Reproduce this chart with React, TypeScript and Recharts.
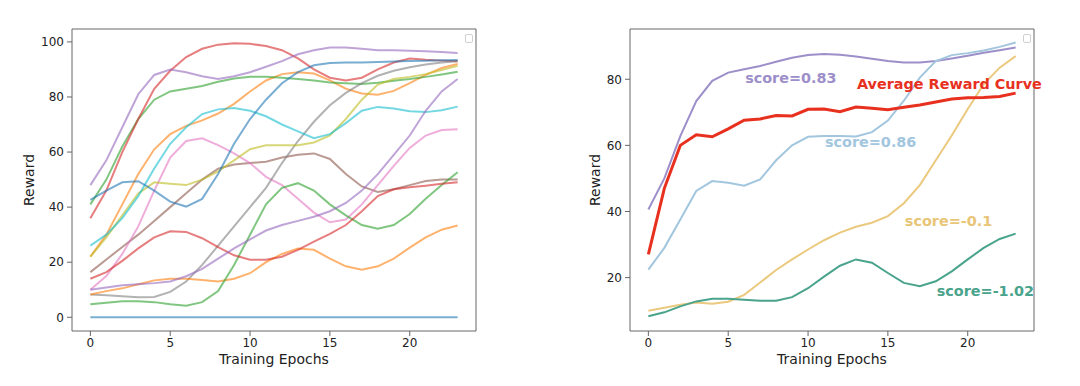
import React from 'react';
import { LineChart, Line, XAxis, YAxis, ReferenceArea, ReferenceDot } from 'recharts';

const epochs = [0, 1, 2, 3, 4, 5, 6, 7, 8, 9, 10, 11, 12, 13, 14, 15, 16, 17, 18, 19, 20, 21, 22, 23];
const xTicks = [0, 5, 10, 15, 20];
const leftYTicks = [0, 20, 40, 60, 80, 100];
const rightYTicks = [20, 40, 60, 80];

// Left panel: individual reward curves
const runBlueFlat = [0, 0, 0, 0, 0, 0, 0, 0, 0, 0, 0, 0, 0, 0, 0, 0, 0, 0, 0, 0, 0, 0, 0, 0];
const runOrangeHigh = [22, 30, 41, 52, 61, 66.5, 69.5, 71.5, 74, 77.5, 82, 86, 88.3, 89, 88.5, 86, 83, 81.3, 80.8, 82.2, 85, 88, 90.5, 92];
const runGreenHigh = [41, 50, 62, 72, 79, 82, 83, 84, 85.5, 86.7, 87.3, 87.3, 87, 86.5, 86, 85.3, 85, 84.7, 85.2, 85.9, 86.5, 87.3, 88.2, 89.2];
const runRedHigh = [36, 46, 60, 72, 83, 89.5, 94.5, 97.5, 99, 99.5, 99.3, 98.5, 97, 94, 90, 87, 86, 87, 90, 92.5, 94, 93.5, 93.2, 93];
const runPurpleHigh = [48, 57, 69, 81, 88, 90, 89, 87.5, 86.5, 87.5, 89, 91, 93, 95.5, 97, 98, 98, 97.5, 97, 97, 96.8, 96.6, 96.3, 96];
const runBrown = [16.4, 21, 25.5, 30, 35, 40, 45, 50, 54, 55.5, 56, 56.5, 58, 59, 59.5, 57.5, 52, 47.5, 45.5, 46.5, 48, 49.5, 50, 50];
const runPink = [10, 15, 23, 33, 46, 58, 64, 65, 62.5, 59.5, 56, 51, 48, 43, 38, 34.5, 35.5, 41, 48, 55, 61.5, 66, 68, 68.3];
const runGray = [8.3, 8, 7.6, 7.3, 7.4, 9.2, 13, 19, 26, 33, 40, 47, 56, 64, 71, 77, 81.5, 85, 87.7, 89.5, 90.8, 91.8, 92.5, 93];
const runOlive = [22, 29, 37, 45, 49, 48.5, 48, 50, 53, 57, 61, 62.5, 62.5, 62.5, 63.5, 66, 72, 79, 84.5, 86.5, 87.3, 88.3, 89.8, 91.3];
const runCyan = [26, 30, 36, 44, 54, 63, 69, 73.8, 75.5, 76, 75, 73, 70, 67.5, 65, 66.5, 70.5, 75, 76.4, 75.8, 74.8, 74.5, 75.2, 76.5];
const runBlueHigh = [42.6, 46, 49, 49.4, 46, 42, 40.2, 43, 52, 63, 72, 79, 85, 89, 91.5, 92.3, 92.5, 92.5, 92.7, 92.9, 93.1, 93.2, 93.3, 93.4];
const runOrangeLow = [8.3, 9.5, 10.5, 12, 13.4, 14, 14, 13.5, 13, 14, 16, 20, 23, 25, 24.5, 21.3, 18.5, 17.3, 18.5, 21.3, 25.3, 29, 31.8, 33.3];
const runGreenLow = [4.7, 5.3, 5.8, 5.8, 5.5, 4.7, 4.2, 5.5, 9.5, 19, 30, 41, 47, 48.7, 46, 41, 37, 33.5, 32.2, 33.5, 37.5, 43, 48, 52.7];
const runRedLow = [14, 16.4, 20.5, 25, 29, 31.2, 31, 28.7, 25.5, 22.5, 20.9, 20.9, 22, 24.5, 27.5, 30.3, 33.5, 38.5, 44, 46.5, 47.2, 47.8, 48.5, 49];
const runPurpleLow = [10, 10.8, 11.6, 12, 12.4, 13, 14.9, 17.6, 21.3, 25, 28.3, 31.5, 33.5, 35, 36.5, 38.5, 41.5, 46, 52, 59, 66, 75, 82, 86.5];

// Right panel: selected curves + average
const avgReward = [27, 47, 60, 63.2, 62.6, 65, 67.6, 68, 69, 68.9, 70.9, 71, 70.2, 71.6, 71.2, 70.8, 71.5, 72.2, 73.1, 74, 74.4, 74.5, 74.8, 75.8];
const curveScore083 = [40.6, 50, 62.8, 73.4, 79.5, 82, 83, 84, 85.3, 86.5, 87.3, 87.6, 87.4, 86.9, 86.2, 85.5, 85.1, 85.1, 85.5, 86.3, 87.1, 88, 88.8, 89.6];
const curveScore086 = [22.4, 29, 37.6, 46.2, 49.2, 48.7, 47.8, 49.7, 55.5, 60, 62.6, 62.8, 62.8, 62.7, 64, 67.5, 73.5, 80.5, 85.5, 87.3, 87.9, 88.7, 89.8, 91.1];
const curveScoreNeg01 = [10, 10.9, 11.8, 12.5, 12.1, 12.7, 14.8, 18.5, 22.3, 25.5, 28.5, 31.3, 33.6, 35.4, 36.6, 38.6, 42.5, 48, 55.5, 63, 71, 78.5, 83.5, 87];
const curveScoreNeg102 = [8.3, 9.5, 11.3, 12.8, 13.6, 13.6, 13.3, 13, 13, 14.1, 16.8, 20.3, 23.6, 25.5, 24.5, 21.4, 18.4, 17.4, 18.9, 21.9, 25.5, 29, 31.7, 33.3];

// annotation labels (data-space anchor: epoch, reward)
const annotations = [
  { text: 'score=0.83', x: 6.06, y: 80.3, color: '#9d8fc9' },
  { text: 'Average Reward Curve', x: 13.06, y: 78.5, color: '#e8301f' },
  { text: 'score=0.86', x: 11.06, y: 60.9, color: '#a3c6df' },
  { text: 'score=-0.1', x: 16.06, y: 37, color: '#e8c577' },
  { text: 'score=-1.02', x: 18.06, y: 15.8, color: '#4aa38c' },
];

const leftSeries = [
  { key: 'b1', color: '#1f77b4', values: runBlueFlat },
  { key: 'o1', color: '#ff7f0e', values: runOrangeHigh },
  { key: 'g1', color: '#2ca02c', values: runGreenHigh },
  { key: 'r1', color: '#d62728', values: runRedHigh },
  { key: 'p1', color: '#9467bd', values: runPurpleHigh },
  { key: 'br', color: '#8c564b', values: runBrown },
  { key: 'pk', color: '#e377c2', values: runPink },
  { key: 'gy', color: '#7f7f7f', values: runGray },
  { key: 'ol', color: '#bcbd22', values: runOlive },
  { key: 'cy', color: '#17becf', values: runCyan },
  { key: 'b2', color: '#1f77b4', values: runBlueHigh },
  { key: 'o2', color: '#ff7f0e', values: runOrangeLow },
  { key: 'g2', color: '#2ca02c', values: runGreenLow },
  { key: 'r2', color: '#d62728', values: runRedLow },
  { key: 'p2', color: '#9467bd', values: runPurpleLow },
];

const rightSeries = [
  { key: 'c083', color: '#9d8fc9', values: curveScore083, width: 2 },
  { key: 'c086', color: '#a3c6df', values: curveScore086, width: 2 },
  { key: 'cm01', color: '#ebc97e', values: curveScoreNeg01, width: 2 },
  { key: 'cm102', color: '#4aa38c', values: curveScoreNeg102, width: 2 },
  { key: 'avg', color: '#e8301f', values: avgReward, width: 3 },
];

const leftData = epochs.map((e, i) => {
  const row: Record<string, number> = { epoch: e };
  leftSeries.forEach((s) => { row[s.key] = s.values[i]; });
  return row;
});
const rightData = epochs.map((e, i) => {
  const row: Record<string, number> = { epoch: e };
  rightSeries.forEach((s) => { row[s.key] = s.values[i]; });
  return row;
});

const X_DOMAIN: [number, number] = [-1.15, 24.15];
const LEFT_Y: [number, number] = [-4.985, 104.685];
const RIGHT_Y: [number, number] = [3.85, 95.2];

const FONT = 'DejaVu Sans';
const tickStyle = { fontSize: 12, fill: '#222', fontFamily: FONT };
const labelStyle = { fontSize: 14, fill: '#222', fontFamily: FONT };
const spine = '#666';

const LegendBox = ({ left, top }: { left: number; top: number }) => (
  <div style={{ position: 'absolute', left, top, width: 6, height: 7, border: '1px solid #d0d0d0', borderRadius: 2, background: '#fff' }} />
);

export default function App() {
  return (
    <div style={{ position: 'absolute', left: 0, top: 0, width: 1080, height: 386, background: '#fff', fontFamily: FONT }}>
      <div style={{ position: 'absolute', left: 0, top: 0 }}>
        <LineChart width={540} height={386} data={leftData} margin={{ top: 29, right: 64, bottom: 0, left: 0 }}>
          <XAxis dataKey="epoch" type="number" domain={X_DOMAIN} ticks={xTicks} allowDataOverflow
            height={55} axisLine={false} tickLine={{ stroke: spine }} tickSize={5} tick={tickStyle}
            label={{ value: 'Training Epochs', position: 'center', dy: 1, style: labelStyle }} />
          <YAxis type="number" domain={LEFT_Y} ticks={leftYTicks} allowDataOverflow width={72}
            axisLine={false} tickLine={{ stroke: spine }} tickSize={5} tickMargin={3} tick={tickStyle}
            label={{ value: 'Reward', angle: -90, position: 'center', dx: -7, style: { ...labelStyle, textAnchor: 'middle' } }} />
          {leftSeries.map((s) => (
            <Line key={s.key} dataKey={s.key} type="linear" stroke={s.color} strokeOpacity={0.6} strokeWidth={2}
              dot={false} activeDot={false} isAnimationActive={false} />
          ))}
          <ReferenceArea x1={X_DOMAIN[0]} x2={X_DOMAIN[1]} y1={LEFT_Y[0]} y2={LEFT_Y[1]} fill="none" stroke={spine} strokeWidth={1} ifOverflow="visible" />
        </LineChart>
      </div>
      <div style={{ position: 'absolute', left: 540, top: 0 }}>
        <LineChart width={540} height={386} data={rightData} margin={{ top: 29, right: 46, bottom: 0, left: 0 }}>
          <XAxis dataKey="epoch" type="number" domain={X_DOMAIN} ticks={xTicks} allowDataOverflow
            height={55} axisLine={false} tickLine={{ stroke: spine }} tickSize={5} tick={tickStyle}
            label={{ value: 'Training Epochs', position: 'center', dy: 1, style: labelStyle }} />
          <YAxis type="number" domain={RIGHT_Y} ticks={rightYTicks} allowDataOverflow width={90}
            axisLine={false} tickLine={{ stroke: spine }} tickSize={5} tickMargin={3} tick={tickStyle}
            label={{ value: 'Reward', angle: -90, position: 'center', dx: 10, style: { ...labelStyle, textAnchor: 'middle' } }} />
          {rightSeries.map((s) => (
            <Line key={s.key} dataKey={s.key} type="linear" stroke={s.color} strokeWidth={s.width}
              dot={false} activeDot={false} isAnimationActive={false} />
          ))}
          <ReferenceArea x1={X_DOMAIN[0]} x2={X_DOMAIN[1]} y1={RIGHT_Y[0]} y2={RIGHT_Y[1]} fill="none" stroke={spine} strokeWidth={1} ifOverflow="visible" />
          {annotations.map((a) => (
            <ReferenceDot key={a.text} x={a.x} y={a.y} r={0} ifOverflow="visible"
              shape={(p: any) => (
                <text x={p.cx} y={p.cy} fill={a.color} fontSize={14.4} fontWeight="bold" fontFamily={FONT} dominantBaseline="central">{a.text}</text>
              )} />
          ))}
        </LineChart>
      </div>
      <LegendBox left={465} top={34} />
      <LegendBox left={1023} top={34} />
    </div>
  );
}
